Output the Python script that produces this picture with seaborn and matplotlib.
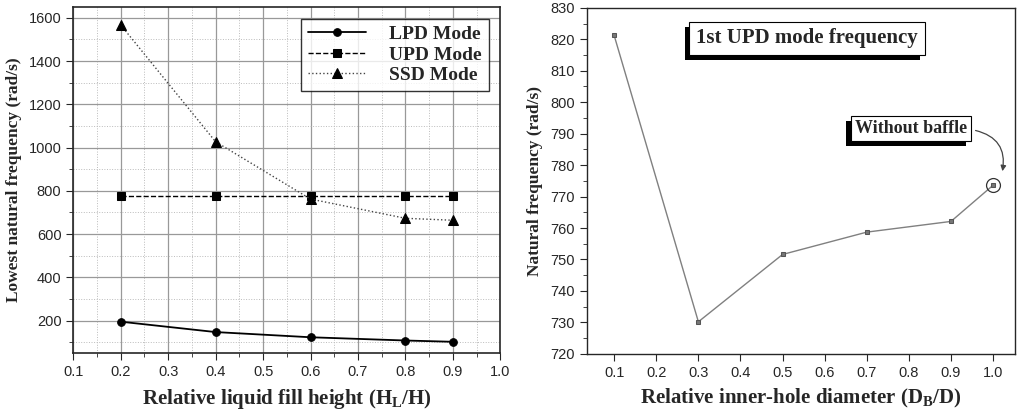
import numpy as np
import pandas as pd
import matplotlib
matplotlib.use("Agg")
import matplotlib.pyplot as plt
import matplotlib.patheffects as pe
from matplotlib.ticker import MultipleLocator
import seaborn as sns

# left panel: lowest natural frequency vs fill height
fill_height = [0.2, 0.4, 0.6, 0.8, 0.9]
lpd_mode = [195, 147, 123, 108, 102]
upd_mode = [776, 776, 776, 776, 776]
ssd_mode = [1567, 1027, 762, 673, 664]

# right panel: 1st UPD frequency vs inner-hole diameter
hole_diam = [0.1, 0.3, 0.5, 0.7, 0.9, 1.0]
upd_freq = [821.2, 730.2, 751.6, 758.7, 762.1, 773.6]
tick_lbls = ["0.1", "0.2", "0.3", "0.4", "0.5", "0.6", "0.7", "0.8", "0.9", "1.0"]

sns.set_style("ticks")
plt.rcParams['font.family'] = ['Liberation Sans', 'DejaVu Sans']
serif = ['Liberation Serif', 'DejaVu Serif']

fig = plt.figure(figsize=(10.17, 4.11), dpi=100)
ax1 = fig.add_axes([0.072, 0.141, 0.42, 0.842])
ax2 = fig.add_axes([0.577, 0.139, 0.421, 0.842])

df = pd.DataFrame({
    "h": fill_height * 3,
    "f": lpd_mode + upd_mode + ssd_mode,
    "mode": ["LPD Mode"] * 5 + ["UPD Mode"] * 5 + ["SSD Mode"] * 5,
})
styles = {"LPD Mode": ("o", "-", 1.3, "black", 5.5),
          "UPD Mode": ("s", "--", 1.0, "black", 5.5),
          "SSD Mode": ("^", ":", 1.0, "#444444", 6.5)}
for name, (mk, ls, lw, c, ms) in styles.items():
    sub = df[df["mode"] == name]
    sns.lineplot(data=sub, x="h", y="f", ax=ax1, color=c, marker=mk, markersize=ms,
                 linestyle=ls, linewidth=lw, label=name, markeredgecolor="black",
                 markerfacecolor="black")

ax1.set_xlim(0.1, 1.0)
ax1.set_ylim(50, 1650)
ax1.xaxis.set_minor_locator(MultipleLocator(0.05))
ax1.yaxis.set_minor_locator(MultipleLocator(100))
ax1.set_yticks([200, 400, 600, 800, 1000, 1200, 1400, 1600])
ax1.set_xticks(np.arange(0.1, 1.01, 0.1))
ax1.set_xticklabels(tick_lbls)
ax1.grid(which="major", color="#999999", linewidth=0.9)
ax1.grid(which="minor", color="#bbbbbb", linewidth=0.7, linestyle=":")
ax1.tick_params(which="both", direction="out", labelsize=10.5)
ax1.tick_params(which="major", length=5)
ax1.tick_params(which="minor", length=3)
for s in ax1.spines.values():
    s.set_linewidth(1.2)
ax1.set_xlabel("Relative liquid fill height (H$_\\mathregular{L}$/H)", fontsize=15,
               fontweight="bold", family=serif, labelpad=6)
ax1.set_ylabel("Lowest natural frequency (rad/s)", fontsize=12.5, fontweight="bold", family=serif, labelpad=5)
leg = ax1.legend(loc="upper right", frameon=True, fancybox=False, edgecolor="black",
                 prop={"family": serif, "weight": "bold", "size": 14},
                 handlelength=3.0, borderpad=0.35, labelspacing=0.15, borderaxespad=0.6,
                 handletextpad=1.2)
leg.get_frame().set_linewidth(1.0)

# right panel
rdf = pd.DataFrame({"d": hole_diam, "f": upd_freq})
sns.lineplot(data=rdf, x="d", y="f", ax=ax2, color="#808080", marker="s", markersize=3.5,
             linewidth=1.0, markeredgecolor="#555555", markerfacecolor="#777777")
ax2.set_xlim(0.035, 1.052)
ax2.set_ylim(720, 830)
ax2.set_xticks(np.arange(0.1, 1.01, 0.1))
ax2.set_xticklabels(tick_lbls)
ax2.yaxis.set_major_locator(MultipleLocator(10))
ax2.yaxis.set_minor_locator(MultipleLocator(5))
ax2.tick_params(which="both", direction="out", labelsize=10.5)
ax2.tick_params(which="major", length=5)
ax2.tick_params(which="minor", length=3)
for s in ax2.spines.values():
    s.set_linewidth(1.0)
ax2.set_xlabel("Relative inner-hole diameter (D$_\\mathregular{B}$/D)", fontsize=15,
               fontweight="bold", family=serif, labelpad=5)
ax2.set_ylabel("Natural frequency (rad/s)", fontsize=12.5, fontweight="bold", family=serif, labelpad=5)

shadow = [pe.SimplePatchShadow(offset=(-3.5, -3.5), shadow_rgbFace="black", alpha=1.0), pe.Normal()]
t1 = ax2.text(0.558, 820.3, "1st UPD mode frequency", fontsize=15, fontweight="bold", family=serif,
              ha="center", va="center",
              bbox=dict(boxstyle="square,pad=0.32", fc="white", ec="black", lw=0.8))
t1.get_bbox_patch().set_path_effects(shadow)
t2 = ax2.text(0.805, 791.7, "Without baffle", fontsize=13, fontweight="bold", family=serif,
              ha="center", va="center",
              bbox=dict(boxstyle="square,pad=0.22", fc="white", ec="black", lw=0.8))
t2.get_bbox_patch().set_path_effects(shadow)
ax2.plot([hole_diam[-1]], [upd_freq[-1]], marker="o", markersize=10, markerfacecolor="none",
         markeredgecolor="#333333", markeredgewidth=0.9)
ax2.annotate("", xy=(1.021, 777.2), xytext=(0.952, 791.2),
             arrowprops=dict(arrowstyle="-|>", color="#444444", lw=0.9,
                             connectionstyle="arc3,rad=-0.5", mutation_scale=8))

fig.savefig("out.png", dpi=100)
